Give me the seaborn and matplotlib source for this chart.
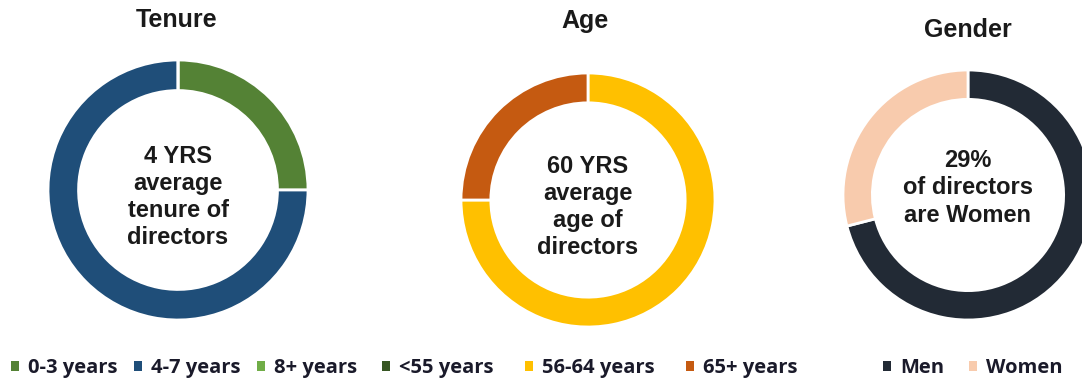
import matplotlib
matplotlib.use("Agg")
import matplotlib.pyplot as plt
import seaborn as sns
from matplotlib.patches import Patch

sns.set_theme(style="white")
plt.rcParams['font.family'] = ['Liberation Sans', 'DejaVu Sans']

# ---- data ----
tenure_labels = ["0-3 years", "4-7 years", "8+ years"]
tenure_values = [25, 75, 0]
tenure_colors = ["#548235", "#1F4E79", "#70AD47"]

age_labels = ["<55 years", "56-64 years", "65+ years"]
age_values = [0, 75, 25]
age_colors = ["#375623", "#FFC000", "#C55A11"]

gender_labels = ["Men", "Women"]
gender_values = [71, 29]
gender_colors = ["#222A35", "#F8CBAD"]

titles = ["Tenure", "Age", "Gender"]
center_texts = ["4 YRS\naverage\ntenure of\ndirectors",
                "60 YRS\naverage\nage of\ndirectors",
                "29%\nof directors\nare Women"]

W, H = 1082, 383
fig = plt.figure(figsize=(W / 100, H / 100), dpi=100)

def add_ax(cx, cy, r):
    return fig.add_axes([(cx - r) / W, (H - cy - r) / H, 2 * r / W, 2 * r / H])

specs = [
    (178, 190, 130, tenure_values, tenure_colors, tenure_labels, 177, 20, 197, 0.170, 0.8),
    (588, 200, 127, age_values, age_colors, age_labels, 585, 21, 207, 0.545, 1.55),
    (968, 195, 125, gender_values, gender_colors, gender_labels, 968, 30, 188, 0.899, 1.2),
]

for i, (cx, cy, r, vals, cols, labs, tx, ty, ctext_y, lx, cs) in enumerate(specs):
    ax = add_ax(cx, cy, r)
    ax.pie(vals, colors=cols, startangle=90, counterclock=False, radius=1.0,
           wedgeprops=dict(width=0.235, edgecolor="white", linewidth=2))
    ax.set_xlim(-1, 1)
    ax.set_ylim(-1, 1)
    ax.set_aspect("equal")
    ax.axis("off")
    fig.text(tx / W, 1 - ty / H, titles[i], ha="center", va="center",
             fontsize=18, fontweight="bold", color="#1a1a1a")
    fig.text(cx / W, 1 - ctext_y / H, center_texts[i], ha="center", va="center",
             fontsize=17, fontweight="bold", color="#1a1a1a", linespacing=1.24)
    handles = [Patch(facecolor=c, edgecolor="none") for c in cols]
    fig.legend(handles, labs, ncol=len(labs), loc="center",
               bbox_to_anchor=(lx, 1 - 368 / H), frameon=False,
               handlelength=0.4, handleheight=0.4, handletextpad=0.45,
               columnspacing=cs,
               prop=dict(family="Open Sans", weight="bold", size=14.5),
               labelcolor="#1a1a2a")

fig.savefig("out.png", dpi=100)
